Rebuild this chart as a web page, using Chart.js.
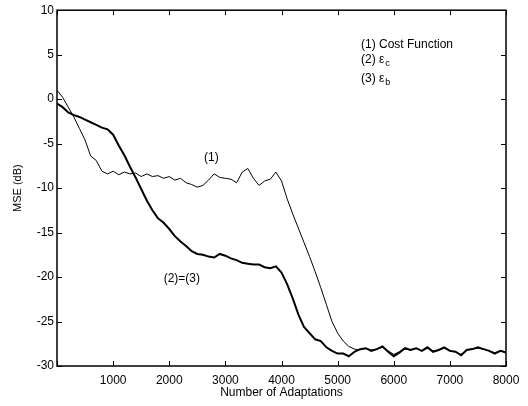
<!DOCTYPE html>
<html>
<head>
<meta charset="utf-8">
<script src="https://cdn.jsdelivr.net/npm/chart.js@4/dist/chart.umd.min.js"></script>
<style>
  html, body { margin: 0; padding: 0; background: #fff; }
  #wrap { width: 528px; height: 406px; }
</style>
</head>
<body>
<div id="wrap"><canvas id="mse"></canvas></div>
<script>
// adaptation index, every 100 samples
const adaptations = [];
for (let n = 0; n <= 8000; n += 100) adaptations.push(n);

// (1) cost function curve (thin)
const costFunction = [
  1.0, 0.2, -0.9, -2.0, -3.3, -4.6, -6.4, -6.9, -8.1, -8.4,
  -8.1, -8.5, -8.2, -8.4, -8.3, -8.7, -8.4, -8.7, -8.6, -8.9,
  -8.7, -9.1, -8.9, -9.4, -9.6, -9.9, -9.7, -9.1, -8.4, -8.8,
  -8.9, -9.0, -9.4, -8.2, -7.8, -8.9, -9.7, -9.2, -9.0, -8.2,
  -9.2, -11.2, -12.9, -14.5, -16.1, -17.7, -19.4, -21.2, -23.1, -25.0,
  -26.3, -27.2, -27.8, -28.1, -28.2, -28.0, -28.2, -28.1, -27.9, -28.3,
  -28.7, -28.4, -28.1, -28.2, -28.0, -28.3, -28.0, -28.3, -28.2, -28.0,
  -28.3, -28.4, -28.7, -28.2, -28.1, -28.0, -28.1, -28.3, -28.5, -28.3,
  -28.4
];

// (2)=(3) e_c and e_b curves (thick, identical)
const errorCB = [
  -0.5, -0.9, -1.5, -1.8, -2.0, -2.3, -2.6, -2.9, -3.2, -3.4,
  -4.0, -5.2, -6.3, -7.6, -8.8, -10.1, -11.4, -12.5, -13.4, -13.9,
  -14.6, -15.4, -16.0, -16.5, -17.1, -17.4, -17.5, -17.7, -17.8, -17.4,
  -17.6, -17.9, -18.1, -18.4, -18.5, -18.6, -18.6, -18.9, -19.0, -18.8,
  -19.5, -20.8, -22.4, -24.2, -25.6, -26.3, -27.0, -27.2, -27.9, -28.3,
  -28.6, -28.6, -28.9, -28.4, -28.1, -28.0, -28.3, -28.1, -27.8, -28.4,
  -28.9, -28.5, -28.0, -28.2, -28.0, -28.3, -27.9, -28.4, -28.2, -27.9,
  -28.3, -28.4, -28.8, -28.2, -28.1, -27.9, -28.1, -28.3, -28.6, -28.3,
  -28.5
];

const xTicks = [0, 1000, 2000, 3000, 4000, 5000, 6000, 7000, 8000];
const yTicks = [10, 5, 0, -5, -10, -15, -20, -25, -30];

const toPoints = (ys) => ys.map((y, i) => ({ x: adaptations[i], y: y }));

const FONT = 'Liberation Sans, Arial, sans-serif';

// frame, inward ticks, labels and legend text
const decorations = {
  id: 'decorations',
  afterDraw(chart) {
    const c = chart.ctx;
    const a = chart.chartArea;
    const xs = chart.scales.x, ys = chart.scales.y;
    c.save();
    c.strokeStyle = '#000';
    c.lineWidth = 1;
    xTicks.forEach(v => {
      const px = Math.round(xs.getPixelForValue(v)) + 0.5;
      c.beginPath();
      c.moveTo(px, a.bottom); c.lineTo(px, a.bottom - 5);
      c.moveTo(px, a.top); c.lineTo(px, a.top + 5);
      c.stroke();
    });
    yTicks.forEach(v => {
      const py = Math.round(ys.getPixelForValue(v)) + 0.5;
      c.beginPath();
      c.moveTo(a.left, py); c.lineTo(a.left + 5, py);
      c.moveTo(a.right, py); c.lineTo(a.right - 5, py);
      c.stroke();
    });
    c.lineWidth = 1.5;
    c.strokeRect(a.left, a.top, a.right - a.left, a.bottom - a.top);

    c.fillStyle = '#000';
    c.textBaseline = 'middle';
    c.textAlign = 'left';
    c.font = '12px ' + FONT;
    c.fillText('(1)', xs.getPixelForValue(2620), ys.getPixelForValue(-6.6));
    c.fillText('(2)=(3)', xs.getPixelForValue(1900), ys.getPixelForValue(-20.2));

    // legend block
    const lx = 361;
    c.fillText('(1) Cost Function', lx, 45);
    c.fillText('(2) \u03b5', lx, 60);
    c.fillText('(3) \u03b5', lx, 79);
    const w = c.measureText('(2) \u03b5').width;
    c.font = '9px ' + FONT;
    c.fillText('c', lx + w + 1, 64);
    c.fillText('b', lx + w + 1, 83);
    c.restore();
  }
};

new Chart(document.getElementById('mse'), {
  type: 'line',
  data: {
    datasets: [
      { label: '(1) Cost Function', data: toPoints(costFunction), borderColor: '#000', borderWidth: 1, pointRadius: 0, tension: 0 },
      { label: '(2)=(3)', data: toPoints(errorCB), borderColor: '#000', borderWidth: 2, pointRadius: 0, tension: 0 }
    ]
  },
  options: {
    responsive: true,
    maintainAspectRatio: false,
    animation: false,
    layout: { padding: { top: 10, right: 22, left: 0, bottom: 0 } },
    plugins: { legend: { display: false }, tooltip: { enabled: false } },
    scales: {
      x: {
        type: 'linear', min: 0, max: 8000,
        afterBuildTicks: (s) => { s.ticks = xTicks.map(v => ({ value: v })); },
        afterFit: (s) => { s.height = 40; },
        grid: { display: false, drawTicks: false },
        border: { display: false },
        ticks: {
          color: '#000', font: { family: FONT, size: 12 }, padding: 7, maxRotation: 0,
          callback: (v) => (v === 0 ? '' : String(v))
        },
        title: { display: true, text: 'Number of Adaptations', color: '#000', font: { family: FONT, size: 12 }, padding: { top: 0, bottom: 6 } }
      },
      y: {
        type: 'linear', min: -30, max: 10,
        afterBuildTicks: (s) => { s.ticks = yTicks.map(v => ({ value: v })); },
        afterFit: (s) => { s.width = 57; },
        grid: { display: false, drawTicks: false },
        border: { display: false },
        ticks: { color: '#000', font: { family: FONT, size: 12 }, padding: 3 },
        title: { display: true, text: 'MSE (dB)', color: '#000', font: { family: FONT, size: 11 }, padding: { top: 11, bottom: 0 } }
      }
    }
  },
  plugins: [decorations]
});
</script>
</body>
</html>
